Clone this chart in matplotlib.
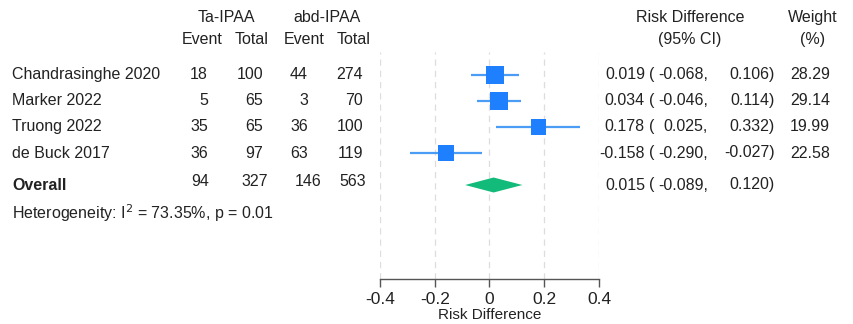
import matplotlib
matplotlib.use("Agg")
import numpy as np
from matplotlib import pyplot as plt
from matplotlib import transforms

plt.rcParams['font.family'] = ['Liberation Sans', 'DejaVu Sans']

studies = ['Chandrasinghe 2020', 'Marker 2022', 'Truong 2022', 'de Buck 2017']
ta_event = [18, 5, 35, 36]
ta_total = [100, 65, 65, 97]
abd_event = [44, 3, 36, 63]
abd_total = [274, 70, 100, 119]
rd = [0.019, 0.034, 0.178, -0.158]
rd_lo = [-0.068, -0.046, 0.025, -0.290]
rd_hi = [0.106, 0.114, 0.332, -0.027]
weight = [28.29, 29.14, 19.99, 22.58]

overall_counts = [94, 327, 146, 563]
overall_rd, overall_lo, overall_hi = 0.015, -0.089, 0.120
heterogeneity = r'Heterogeneity: I$^2$ = 73.35%, p = 0.01'
xticks = [-0.4, -0.2, 0, 0.2, 0.4]
xtick_labels = ['-0.4', '-0.2', '0', '0.2', '0.4']

W, H = 854, 324
fig = plt.figure(figsize=(W / 100, H / 100), dpi=100)

# forest panel: x from 380px to 599px, y from 52px to 279px (from top)
ax = fig.add_axes([380 / W, (H - 279) / H, 219 / W, (279 - 52) / H])
ax.set_xlim(-0.4, 0.4)
# row units: row 0 at 75px, 26px per row
ax.set_ylim((279 - 75) / 26, (52 - 75) / 26)
for s in ['top', 'right', 'left']:
    ax.spines[s].set_visible(False)
ax.spines['bottom'].set_color('#555555')
ax.spines['bottom'].set_linewidth(1.0)
ax.set_yticks([])
ax.set_xticks(xticks)
ax.set_xticklabels(xtick_labels)
ax.tick_params(axis='x', length=6, width=1.0, color='#555555', labelsize=12.5,
               labelcolor='#222222', pad=3)
ax.set_xlabel('Risk Difference', fontsize=11, labelpad=1, color='#222222')
for t in xticks:
    ax.axvline(t, color='#dddddd', lw=0.9, ls=(0, (5, 4)), zorder=0)

rows = np.arange(len(studies))
blue = '#1f80ff'
ax.hlines(rows, rd_lo, rd_hi, color='#4a9cf5', lw=1.6, zorder=2)
side_pt = 3.38 * np.sqrt(weight) * 0.72
ax.scatter(rd, rows, marker='s', s=side_pt ** 2, color=blue, zorder=3, linewidths=0)

y_over = (185 - 75) / 26
dh = 7.5 / 26
ax.fill([overall_lo, overall_rd, overall_hi, overall_rd],
        [y_over, y_over - dh, y_over, y_over + dh], color='#13bb7b', lw=0, zorder=3)

# text columns: x in figure pixels, y in row units
tr = transforms.blended_transform_factory(
    transforms.Affine2D().scale(1 / W, 1 / H) + fig.transFigure, ax.transData)
fs = 11.5
kw = dict(transform=tr, fontsize=fs, va='center', clip_on=False, color='#222222')

y_h1 = (18 - 75) / 26
y_h2 = (40 - 75) / 26
ax.text(226, y_h1, 'Ta-IPAA', ha='center', **kw)
ax.text(327, y_h1, 'abd-IPAA', ha='center', **kw)
ax.text(202, y_h2, 'Event', ha='center', **kw)
ax.text(252, y_h2, 'Total', ha='center', **kw)
ax.text(304, y_h2, 'Event', ha='center', **kw)
ax.text(354, y_h2, 'Total', ha='center', **kw)
ax.text(690, y_h1, 'Risk Difference', ha='center', **kw)
ax.text(690, y_h2, '(95% CI)', ha='center', **kw)
ax.text(813, y_h1, 'Weight', ha='center', **kw)
ax.text(813, y_h2, '(%)', ha='center', **kw)


def ci_text(y, est, lo, hi):
    ax.text(645, y, f'{est:.3f}', ha='right', **kw)
    ax.text(649, y, '(', ha='left', **kw)
    ax.text(708, y, f'{lo:.3f},', ha='right', **kw)
    ax.text(775, y, f'{hi:.3f})', ha='right', **kw)


for i, name in enumerate(studies):
    ax.text(12, i, name, ha='left', **kw)
    ax.text(208, i, str(ta_event[i]), ha='right', **kw)
    ax.text(263, i, str(ta_total[i]), ha='right', **kw)
    ax.text(308, i, str(abd_event[i]), ha='right', **kw)
    ax.text(363, i, str(abd_total[i]), ha='right', **kw)
    ci_text(i, rd[i], rd_lo[i], rd_hi[i])
    ax.text(830, i, f'{weight[i]:.2f}', ha='right', **kw)

ax.text(12, y_over, 'Overall', ha='left', fontweight='bold', **kw)
for xc, v in zip([200, 255, 308, 353], overall_counts):
    ax.text(xc, y_over - 0.12, str(v), ha='center', **kw)
ci_text(y_over, overall_rd, overall_lo, overall_hi)

ax.text(12, (213 - 75) / 26, heterogeneity, ha='left', **kw)

fig.savefig('out.png', dpi=100, facecolor='white')
